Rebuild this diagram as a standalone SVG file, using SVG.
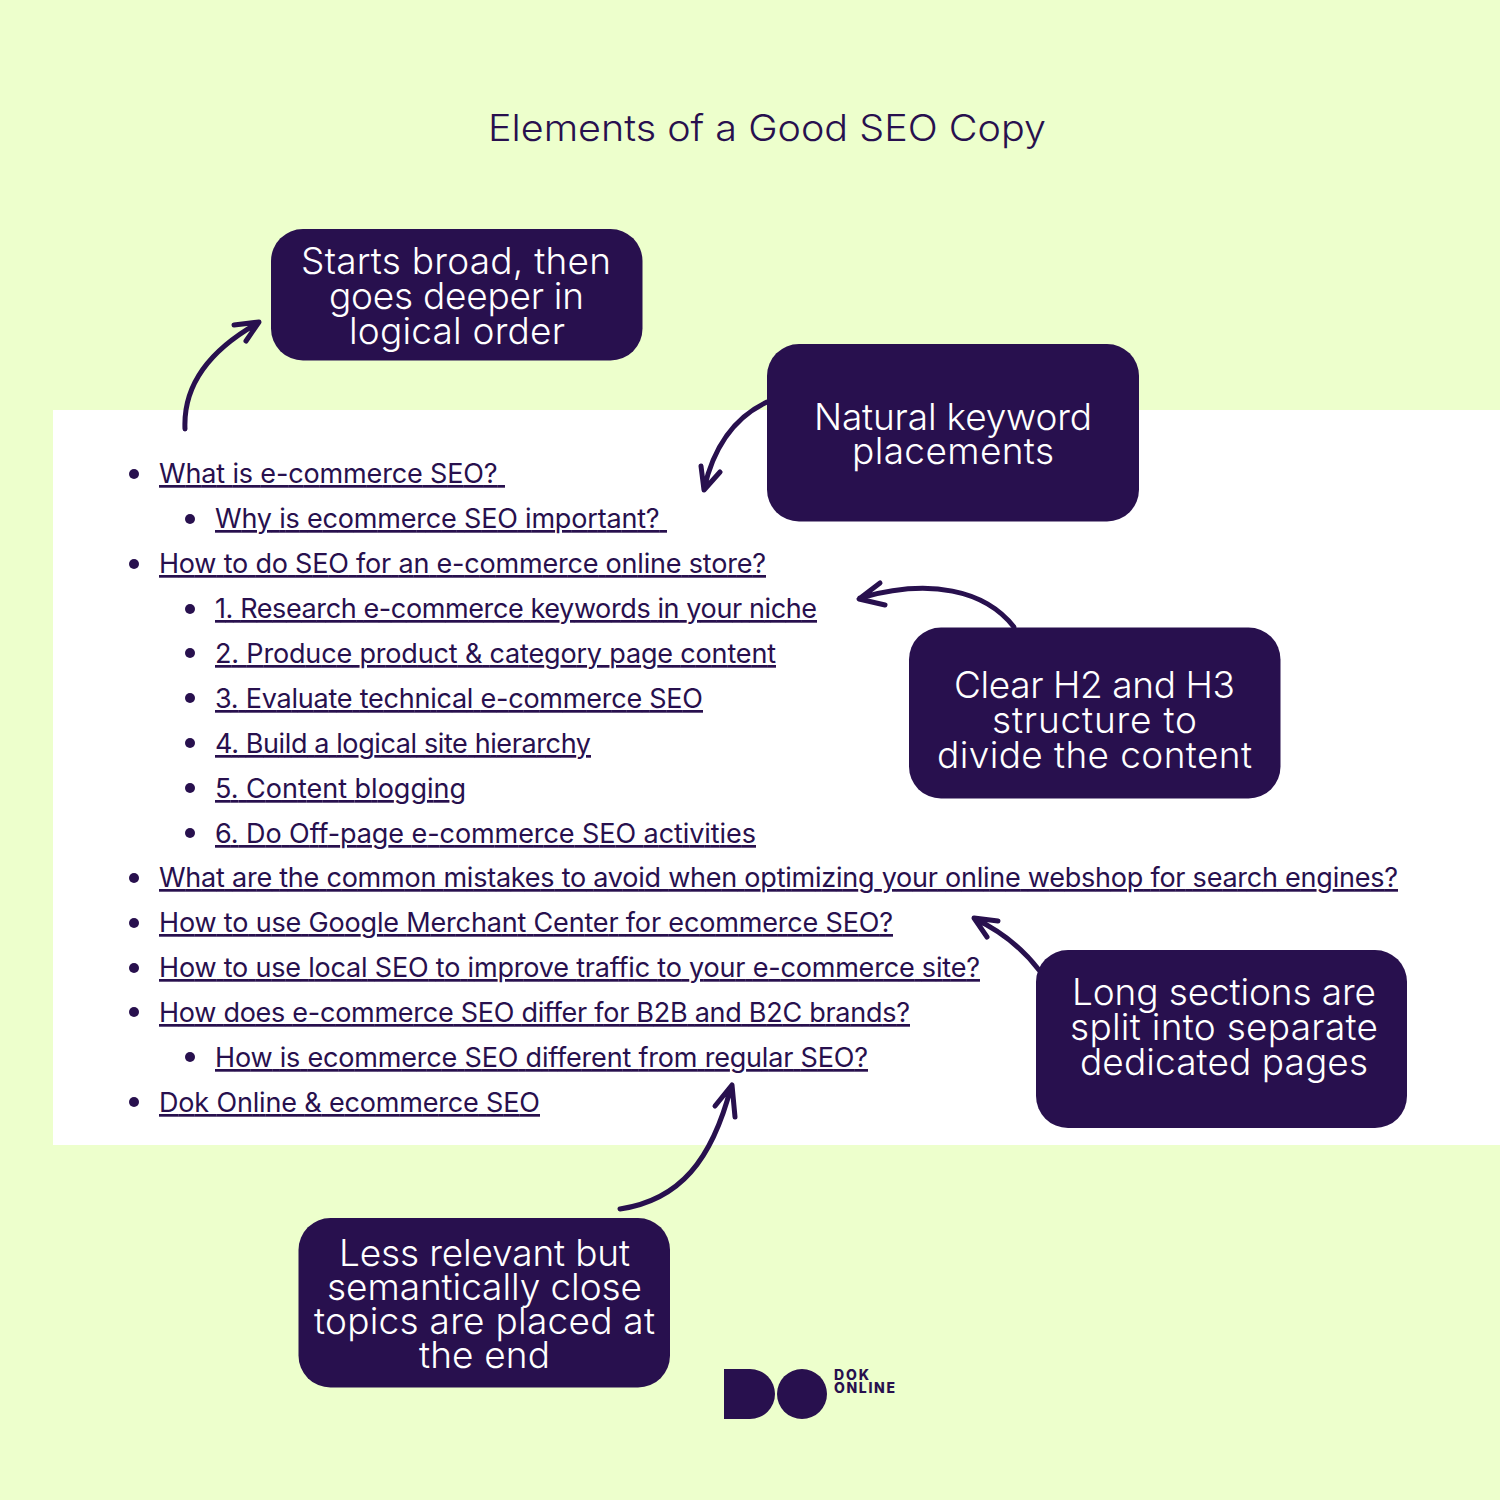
<svg xmlns="http://www.w3.org/2000/svg" width="1500" height="1500" viewBox="0 0 1500 1500">
<style>
text{font-family:"Inter","Noto Sans","Liberation Sans",sans-serif;fill:#28104e}
.t{font-size:37px;font-weight:300}
.b{fill:#28104e}
.n{font-size:37px;font-weight:300;fill:#fff;text-anchor:middle}
.l{font-size:27px;font-weight:400;text-decoration:underline;text-decoration-thickness:2.5px}
.d{fill:#28104e}
.c{fill:none;stroke:#28104e;stroke-width:5px;stroke-linecap:round;stroke-linejoin:round}
.logo{font-size:14px;font-weight:800}
</style>
<rect width="1500" height="1500" fill="#edffcc"/>
<rect x="53" y="410" width="1447" height="735" fill="#fff"/>
<text class="t" x="488" y="141" textLength="558" lengthAdjust="spacingAndGlyphs">Elements of a Good SEO Copy</text>
<g id="toc">
<g class="d"><circle cx="134" cy="474" r="5"/><circle cx="190" cy="519" r="5"/><circle cx="134" cy="564" r="5"/><circle cx="190" cy="609" r="5"/><circle cx="190" cy="653" r="5"/><circle cx="190" cy="698" r="5"/><circle cx="190" cy="743" r="5"/><circle cx="190" cy="788" r="5"/><circle cx="190" cy="833" r="5"/><circle cx="134" cy="878" r="5"/><circle cx="134" cy="923" r="5"/><circle cx="134" cy="968" r="5"/><circle cx="134" cy="1012" r="5"/><circle cx="190" cy="1057" r="5"/><circle cx="134" cy="1102" r="5"/></g>
<text class="l" x="159" y="483" textLength="346" xml:space="preserve">What is e-commerce SEO? </text>
<text class="l" x="215" y="528" textLength="452" xml:space="preserve">Why is ecommerce SEO important? </text>
<text class="l" x="159" y="573" textLength="607">How to do SEO for an e-commerce online store?</text>
<text class="l" x="215" y="618" textLength="602">1. Research e-commerce keywords in your niche</text>
<text class="l" x="215" y="663" textLength="561">2. Produce product &amp; category page content</text>
<text class="l" x="215" y="708" textLength="488">3. Evaluate technical e-commerce SEO</text>
<text class="l" x="215" y="753" textLength="376">4. Build a logical site hierarchy</text>
<text class="l" x="215" y="798" textLength="251">5. Content blogging</text>
<text class="l" x="215" y="843" textLength="541">6. Do Off-page e-commerce SEO activities</text>
<text class="l" x="159" y="887" textLength="1239">What are the common mistakes to avoid when optimizing your online webshop for search engines?</text>
<text class="l" x="159" y="932" textLength="734">How to use Google Merchant Center for ecommerce SEO?</text>
<text class="l" x="159" y="977" textLength="821">How to use local SEO to improve traffic to your e-commerce site?</text>
<text class="l" x="159" y="1022" textLength="751">How does e-commerce SEO differ for B2B and B2C brands?</text>
<text class="l" x="215" y="1067" textLength="653">How is ecommerce SEO different from regular SEO?</text>
<text class="l" x="159" y="1112" textLength="381">Dok Online &amp; ecommerce SEO</text>
</g>
<g id="connectors">
<path class="c" d="M185 429C183 385 210 350 258 323M234 325L259 322L246 341"/>
<path class="c" d="M767 402C735 417 714 445 704 489M701 466L704 490L720 472"/>
<path class="c" d="M1014 627C985 590 930 578 860 598M880 583L859 599L885 605"/>
<path class="c" d="M1039 970C1022 948 1003 932 975 919M998 921L974 918L987 937"/>
<path class="c" d="M620 1209C680 1200 712 1160 731 1087M715 1106L732 1085L735 1117"/>
</g>
<g id="node-broad"><rect class="b" x="271" y="229" width="371.500" height="131.500" rx="32"/>
<text class="n" x="456" y="274" textLength="310">Starts broad, then</text><text class="n" x="456.500" y="309" textLength="255">goes deeper in</text><text class="n" x="457" y="344" textLength="216">logical order</text></g>
<g id="node-keyword"><rect class="b" x="767" y="344" width="372" height="177.500" rx="32"/>
<text class="n" x="953" y="430" textLength="278">Natural keyword</text><text class="n" x="953" y="464" textLength="202">placements</text></g>
<g id="node-structure"><rect class="b" x="909" y="627.500" width="371.500" height="171" rx="32"/>
<text class="n" x="1094.500" y="698" textLength="281">Clear H2 and H3</text><text class="n" x="1094.500" y="733" textLength="205">structure to</text><text class="n" x="1094.500" y="768" textLength="315">divide the content</text></g>
<g id="node-long"><rect class="b" x="1036" y="950" width="371" height="178" rx="32"/>
<text class="n" x="1224" y="1005" textLength="304">Long sections are</text><text class="n" x="1224" y="1040" textLength="308">split into separate</text><text class="n" x="1224" y="1075" textLength="288">dedicated pages</text></g>
<g id="node-less"><rect class="b" x="298.500" y="1218" width="371.500" height="169.500" rx="32"/>
<text class="n" x="484.500" y="1266" textLength="291">Less relevant but</text><text class="n" x="484.500" y="1300" textLength="315">semantically close</text><text class="n" x="484.500" y="1334" textLength="341">topics are placed at</text><text class="n" x="484.500" y="1368" textLength="131">the end</text></g>
<g id="logo">
<path class="b" d="M724 1369H750A25 25 0 0 1 750 1419H724Z"/>
<circle class="b" cx="802" cy="1394" r="25"/>
<text class="logo" x="834" y="1380" textLength="35">DOK</text>
<text class="logo" x="834" y="1393" textLength="61">ONLINE</text>
</g>
</svg>
